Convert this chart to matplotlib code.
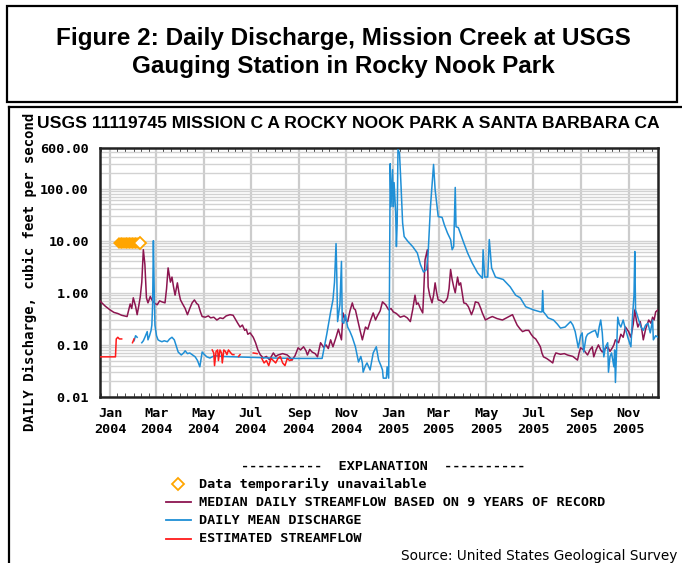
import matplotlib
matplotlib.use('Agg')
import matplotlib.pyplot as plt
import matplotlib.dates as mdates
from matplotlib.ticker import LogLocator, FixedLocator, FormatStrFormatter, NullFormatter
from matplotlib.patches import Rectangle
from matplotlib.lines import Line2D
import numpy as np
import pandas as pd

nan = np.nan
start = pd.Timestamp('2004-01-01')
x_lo, x_hi = pd.Timestamp('2003-12-19'), pd.Timestamp('2005-12-09')

# median daily streamflow (days since 2004-01-01, cfs)
median_day = [-13, -12, -6, 0, 5, 10, 15, 22, 26, 28, 30, 33, 35, 37, 39, 41, 43, 45, 47, 49,
              52, 54, 58, 61, 64, 67, 71, 73, 75, 78, 80, 82, 84, 87, 89, 91, 93, 97, 100, 103,
              106, 109, 112, 114, 117, 119, 123, 127, 130, 134, 138, 142, 146, 150, 155, 159, 162, 165, 168, 171,
              174, 176, 178, 181, 185, 188, 191, 194, 198, 202, 206, 211, 214, 217, 223, 229, 232, 235, 239, 243,
              246, 250, 253, 255, 258, 261, 265, 268, 270, 272, 276, 279, 282, 285, 288, 292, 295, 299, 301, 304,
              307, 310, 313, 315, 317, 320, 323, 326, 330, 333, 336, 340, 343, 345, 349, 352, 356, 360, 363, 366,
              370, 375, 380, 384, 388, 391, 394, 396, 398, 401, 404, 405, 407, 410, 411, 413, 416, 418, 420, 422,
              424, 428, 431, 434, 436, 438, 440, 442, 444, 446, 449, 451, 453, 455, 457, 460, 463, 465, 467, 470,
              472, 476, 479, 481, 485, 490, 494, 500, 507, 514, 520, 523, 526, 530, 533, 537, 541, 544, 547, 550,
              553, 556, 558, 560, 564, 568, 572, 574, 576, 582, 587, 591, 598, 604, 606, 608, 612, 617, 620, 623,
              625, 628, 631, 634, 636, 640, 643, 646, 649, 651, 653, 657, 660, 663, 666, 670, 673, 676, 678, 680,
              682, 685, 687, 689, 692, 696, 699, 701, 703, 705, 708]
median_cfs = [0.70, 0.67, 0.55, 0.47, 0.42, 0.40, 0.37, 0.35, 0.61, 0.50, 0.80, 0.55, 0.38, 0.55, 0.83, 1.6, 6.7, 3.5, 0.80, 0.64,
              0.85, 0.73, 0.62, 0.59, 0.70, 0.67, 0.64, 1.2, 3.0, 1.6, 2.0, 1.3, 0.90, 1.55, 1.0, 0.73, 0.64, 0.50, 0.38, 0.50,
              0.64, 0.73, 0.62, 0.59, 0.42, 0.35, 0.34, 0.36, 0.33, 0.34, 0.30, 0.33, 0.32, 0.36, 0.38, 0.37, 0.31, 0.26, 0.22, 0.24,
              0.19, 0.20, 0.16, 0.17, 0.14, 0.11, 0.08, 0.065, 0.056, 0.060, 0.052, 0.070, 0.060, 0.064, 0.068, 0.064, 0.058, 0.051, 0.062, 0.088,
              0.080, 0.092, 0.078, 0.064, 0.082, 0.073, 0.068, 0.059, 0.080, 0.11, 0.09, 0.10, 0.085, 0.125, 0.092, 0.14, 0.20, 0.125, 0.41, 0.30,
              0.28, 0.45, 0.64, 0.50, 0.47, 0.30, 0.19, 0.125, 0.22, 0.20, 0.28, 0.41, 0.30, 0.35, 0.45, 0.67, 0.59, 0.47, 0.50, 0.43,
              0.40, 0.34, 0.36, 0.33, 0.28, 0.47, 0.90, 0.60, 0.64, 0.50, 0.41, 0.83, 4.3, 6.7, 1.3, 0.9, 0.64, 0.9, 1.55, 1.0,
              0.73, 0.70, 0.64, 0.70, 0.80, 1.2, 2.8, 1.8, 1.3, 1.0, 2.0, 1.4, 1.55, 1.0, 0.64, 0.62, 0.54, 0.45, 0.38, 0.50,
              0.67, 0.64, 0.50, 0.41, 0.30, 0.33, 0.35, 0.32, 0.30, 0.34, 0.38, 0.30, 0.24, 0.20, 0.18, 0.19, 0.19, 0.16, 0.14, 0.13,
              0.11, 0.092, 0.070, 0.059, 0.055, 0.050, 0.045, 0.060, 0.070, 0.066, 0.068, 0.064, 0.060, 0.051, 0.070, 0.088, 0.080, 0.064, 0.080, 0.092,
              0.059, 0.080, 0.10, 0.080, 0.073, 0.085, 0.092, 0.075, 0.088, 0.10, 0.125, 0.11, 0.16, 0.14, 0.22, 0.18, 0.14, 0.25, 0.47, 0.30,
              0.22, 0.28, 0.20, 0.125, 0.20, 0.30, 0.26, 0.34, 0.30, 0.43, 0.47]

# daily mean discharge
mean_day = [31, 33, 35, 36, 41, 43, 45, 48, 49, 51, 53, 54, 55, 56, 57, 58, 59, 60, 62, 64,
            67, 70, 74, 77, 80, 83, 86, 88, 92, 95, 97, 100, 103, 106, 110, 113, 116, 119, 122, 125,
            129, 135, 145, 160, 175, 190, 210, 240, 260, 274, 280, 285, 288, 290, 292, 293, 294, 297, 299, 300,
            302, 304, 307, 310, 313, 317, 321, 324, 326, 327, 330, 332, 336, 340, 344, 347, 350, 352, 353, 357,
            358, 360, 361, 362, 363, 365, 366, 367, 369, 370, 371, 372, 374, 376, 378, 380, 385, 391, 397, 401,
            405, 409, 411, 414, 418, 420, 424, 429, 432, 436, 440, 442, 444, 446, 447, 450, 457, 462, 468, 475,
            481, 482, 484, 488, 490, 493, 498, 508, 517, 524, 530, 537, 547, 556, 558, 559, 560, 563, 566, 573,
            578, 582, 588, 595, 598, 601, 605, 608, 610, 612, 615, 617, 623, 627, 630, 632, 634, 636, 638, 640,
            643, 644, 646, 648, 651, 652, 653, 656, 658, 660, 663, 666, 669, 673, 675, 677, 678, 679, 681, 683,
            686, 689, 692, 695, 698, 701, 702, 705, 708]
mean_cfs = [0.12, 0.15, 0.14, nan, 0.11, 0.12, 0.14, 0.18, 0.125, 0.15, 0.19, 0.24, 0.6, 10.0, 1.2, 0.24, 0.19, 0.15, 0.125, 0.12,
            0.115, 0.12, 0.115, 0.13, 0.14, 0.125, 0.09, 0.073, 0.064, 0.07, 0.077, 0.068, 0.07, 0.065, 0.059, 0.05, 0.038, 0.073, 0.065, 0.059,
            0.056, 0.062, 0.060, 0.059, 0.058, 0.057, 0.056, 0.055, 0.055, 0.055, 0.16, 0.43, 0.73, 1.6, 8.8, 2.0, 0.28, 0.6, 4.0, 0.28,
            0.26, 0.38, 0.22, 0.18, 0.14, 0.092, 0.047, 0.060, 0.045, 0.030, 0.040, 0.045, 0.033, 0.07, 0.092, 0.051, 0.040, 0.033, 0.023, 0.023,
            0.038, 0.023, 1.0, 300, 45, 230, 45, 130, 35, 7.7, 22, 560, 480, 110, 22, 12, 9.6, 7.7, 5.8, 3.5,
            2.5, 2.8, 5.8, 45, 290, 96, 29, 28, 20, 14, 10.5, 6.7, 7.7, 105, 18.5, 17.8, 9.1, 5.8, 3.7, 2.4,
            1.9, 6.7, 2.0, 2.0, 10.5, 3.0, 2.0, 1.8, 1.3, 0.9, 0.8, 0.54, 0.47, 0.43, 0.43, 1.1, 0.43, 0.38, 0.33, 0.30,
            0.25, 0.21, 0.22, 0.28, 0.24, 0.18, 0.088, 0.15, 0.17, 0.073, 0.14, 0.16, 0.18, 0.19, 0.14, 0.22, 0.30, 0.17, 0.059, 0.09,
            0.11, 0.030, 0.06, 0.07, 0.038, 0.08, 0.019, 0.34, 0.25, 0.22, 0.30, 0.20, 0.14, 0.092, 0.34, 0.9, 6.2, 0.47, 0.38, 0.30,
            0.22, 0.19, 0.24, 0.26, 0.17, 0.30, 0.125, 0.15, 0.14]

# estimated streamflow (nan = break)
est_day = [-13, 7, 8, 10, 12, 15, 16, 29, 31, 32,
           132, 134, 135, 137, 139, 140, 142, 144, 145, 147, 149, 151, 153, 156, 158, 160, 161,
           166, 168, 169, 185, 190, 191,
           196, 199, 202, 205, 208, 211, 214, 217, 220, 223, 226, 229, 232, 235]
est_cfs = [0.059, 0.059, 0.13, 0.14, 0.13, 0.13, nan, 0.11, 0.13, nan,
           0.08, 0.07, 0.04, 0.075, 0.08, 0.05, 0.08, 0.07, 0.045, 0.08, 0.075, 0.065, 0.08, 0.07, 0.065, 0.065, nan,
           0.06, 0.065, nan, 0.07, 0.068, nan,
           0.055, 0.045, 0.05, 0.04, 0.055, 0.05, 0.045, 0.055, 0.06, 0.045, 0.04, 0.055, 0.05, 0.052]

# data temporarily unavailable markers
unavail_day = [12, 14, 16, 18, 20, 22, 24, 26, 28, 30, 32, 34, 36]
unavail_open_day = [39]
unavail_level = 9.0

yticks = [0.01, 0.1, 1, 10, 100, 600]

c_med = '#8c1550'
c_mean = '#1f8fd6'
c_est = '#ff1a1a'
c_unav = '#ffa500'

def to_dates(days):
    return start + pd.to_timedelta(days, unit='D')

W, H = 682, 563
fig = plt.figure(figsize=(W / 100, H / 100), dpi=100)
mono = 'DejaVu Sans Mono'
fs = 9.7

ax = fig.add_axes([100 / W, 1 - 397 / H, 558 / W, 249 / H])
ax.plot(to_dates(median_day), median_cfs, color=c_med, lw=1.1, zorder=3)
ax.plot(to_dates(mean_day), mean_cfs, color=c_mean, lw=1.1, zorder=4)
ax.plot(to_dates(est_day), est_cfs, color=c_est, lw=1.1, zorder=5)
ax.plot(to_dates(unavail_day), [unavail_level] * len(unavail_day), 'D', color=c_unav,
        markersize=6, markeredgewidth=0, zorder=6)
ax.plot(to_dates(unavail_open_day), [unavail_level] * len(unavail_open_day), 'D', color=c_unav,
        markersize=6, markerfacecolor='white', markeredgewidth=1.3, zorder=6)

ax.set_yscale('log')
ax.set_ylim(0.01, 600)
ax.set_xlim(x_lo, x_hi)
ax.yaxis.set_major_locator(FixedLocator(yticks))
ax.yaxis.set_major_formatter(FormatStrFormatter('%.2f'))
ax.yaxis.set_minor_locator(LogLocator(base=10, subs=np.arange(2, 10)))
ax.yaxis.set_minor_formatter(NullFormatter())
ax.xaxis.set_major_locator(mdates.MonthLocator(bymonth=[1, 3, 5, 7, 9, 11]))
ax.xaxis.set_major_formatter(mdates.DateFormatter('%b\n%Y'))
ax.xaxis.set_minor_locator(mdates.DayLocator(bymonthday=[1, 10, 20]))

ax.grid(True, which='both', axis='y', color='#d2d2d2', lw=1.0, zorder=0)
ax.grid(True, which='major', axis='x', color='#cccccc', lw=1.6, zorder=0)
ax.set_axisbelow(True)

ax.tick_params(axis='y', which='both', length=0, pad=8)
ax.tick_params(axis='x', which='major', length=0, pad=7)
ax.tick_params(axis='x', which='minor', direction='in', length=3, top=True, bottom=True, color='#333333')
for lab in ax.get_xticklabels() + ax.get_yticklabels():
    lab.set_fontfamily(mono)
    lab.set_fontweight('bold')
    lab.set_fontsize(fs)
    lab.set_linespacing(1.35)
for sp in ax.spines.values():
    sp.set_linewidth(1.8)
    sp.set_color('#222222')

fig.text(30 / W, 1 - 272 / H, 'DAILY Discharge, cubic feet per second', rotation=90,
         ha='center', va='center', family=mono, weight='bold', fontsize=10)

# overlay in pixel coordinates for boxes, titles and explanation
ov = fig.add_axes([0, 0, 1, 1], zorder=-1)
ov.set_xlim(0, W)
ov.set_ylim(H, 0)
ov.axis('off')

ov.add_patch(Rectangle((7, 6), 670, 96, fill=False, lw=1.6, ec='black'))
ov.plot([9, 682], [107, 107], color='black', lw=1.6)
ov.plot([9, 9], [107, 563], color='black', lw=1.6)

ov.text(343, 38, 'Figure 2: Daily Discharge, Mission Creek at USGS', ha='center', va='center',
        family='Liberation Sans', weight='bold', fontsize=17.5)
ov.text(343, 67, 'Gauging Station in Rocky Nook Park', ha='center', va='center',
        family='Liberation Sans', weight='bold', fontsize=17.5)

ov.text(348, 123, 'USGS 11119745 MISSION C A ROCKY NOOK PARK A SANTA BARBARA CA', ha='center', va='center',
        family='Liberation Sans', weight='bold', fontsize=12.6)

ov.text(383, 466, '----------  EXPLANATION  ----------', ha='center', va='center',
        family=mono, weight='bold', fontsize=fs)
legend_rows = [
    ('Data temporarily unavailable', 484, None),
    ('MEDIAN DAILY STREAMFLOW BASED ON 9 YEARS OF RECORD', 502, c_med),
    ('DAILY MEAN DISCHARGE', 520, c_mean),
    ('ESTIMATED STREAMFLOW', 539, c_est),
]
for label, y, col in legend_rows:
    if col is None:
        ov.plot([178], [y], 'D', color=c_unav, markerfacecolor='white', markersize=6, markeredgewidth=1.3)
    else:
        ov.add_line(Line2D([166, 191], [y, y], color=col, lw=1.3))
    ov.text(199, y, label, ha='left', va='center', family=mono, weight='bold', fontsize=fs)

ov.text(677, 556, 'Source: United States Geological Survey', ha='right', va='center',
        family='DejaVu Sans', fontsize=9.8)

fig.savefig('out.png', dpi=100)
